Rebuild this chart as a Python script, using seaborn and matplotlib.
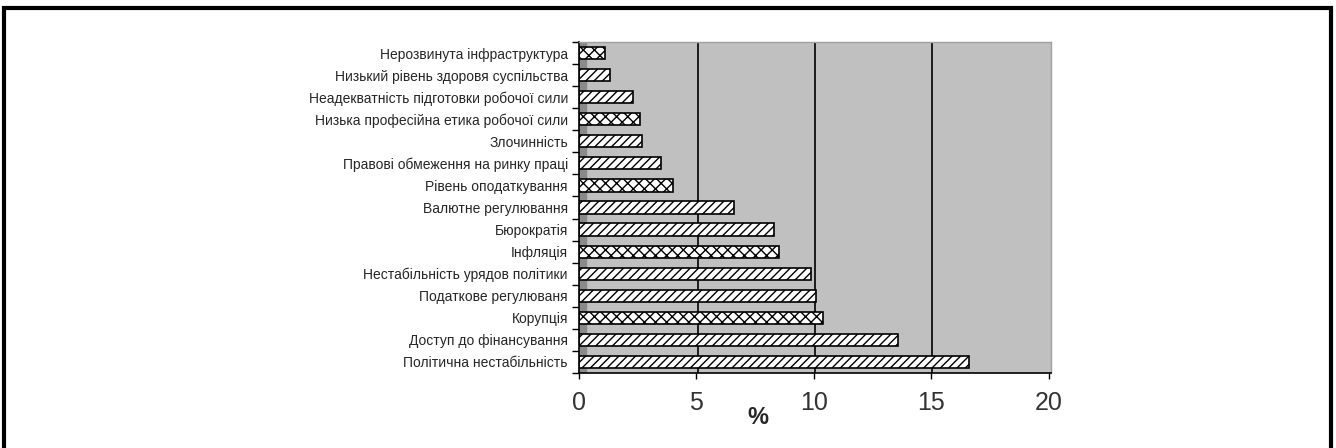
import pandas as pd
import numpy as np
import matplotlib
matplotlib.use('Agg')
import matplotlib.pyplot as plt
from matplotlib.patches import Rectangle
import seaborn as sns

# Data (top to bottom)
factors = [
    'Нерозвинута інфраструктура',
    'Низький рівень здоровя суспільства',
    'Неадекватність підготовки робочої сили',
    'Низька професійна етика робочої сили',
    'Злочинність',
    'Правові обмеження на ринку праці',
    'Рівень оподаткування',
    'Валютне регулювання',
    'Бюрократія',
    'Інфляція',
    'Нестабільність урядов політики',
    'Податкове регулюваня',
    'Корупція',
    'Доступ до фінансування',
    'Політична нестабільність',
]
shares = [1.1, 1.3, 2.3, 2.6, 2.7, 3.5, 4.0, 6.6, 8.3, 8.5, 9.9, 10.1, 10.4, 13.6, 16.6]
x_ticks = [0, 5, 10, 15, 20]

df = pd.DataFrame({'factor': factors, 'share': shares})

sns.set_theme(style='white')
plt.rcParams['font.family'] = ['Liberation Sans', 'DejaVu Sans']
plt.rcParams['hatch.linewidth'] = 1.0

fig = plt.figure(figsize=(13.36, 4.48), dpi=100)
ax = fig.add_axes([579 / 1336, 1 - 373 / 448, 472 / 1336, 331 / 448])

sns.barplot(data=df, x='share', y='factor', orient='h', color='white',
            edgecolor='black', linewidth=1.2, width=0.55, saturation=1, ax=ax)

# alternating fill patterns like the original
for i, bar in enumerate(ax.patches):
    bar.set_hatch('xxx' if i % 3 == 0 else '////')
    bar.set_facecolor('white')
    bar.set_edgecolor('black')

ax.set_facecolor('#c0c0c0')
ax.axvspan(0, 0.3, color='#8a8a8a', zorder=0.5)
ax.set_xlim(0, 20.1)
ax.set_ylim(len(factors) - 0.5, -0.5)
for v in x_ticks[1:-1]:
    ax.axvline(v + 0.05, color='black', lw=1.2, zorder=0.8)

ax.set_xticks(x_ticks)
ax.set_xticklabels([str(t) for t in x_ticks], fontsize=18, color='#333333')
ax.tick_params(axis='x', length=4, width=1, color='black', direction='out', bottom=True, pad=9)
ax.tick_params(axis='y', which='major', length=0, labelsize=10, pad=8)
ax.set_yticks(np.arange(len(factors) + 1) - 0.5, minor=True)
ax.tick_params(axis='y', which='minor', length=5, width=1, color='black', left=True)

ax.set_ylabel('')
ax.set_xlabel('%', fontsize=17, fontweight='bold')
ax.xaxis.set_label_coords((758 - 579) / 472, -0.1)

for side in ['top', 'right']:
    ax.spines[side].set_color('#a0a0a0')
    ax.spines[side].set_linewidth(1)
for side in ['left', 'bottom']:
    ax.spines[side].set_color('black')
    ax.spines[side].set_linewidth(1.2)

# outer frame of the figure
fig.patches.append(Rectangle((4 / 1336, -0.05), 1327 / 1336, 1.05 - 8 / 448,
                             transform=fig.transFigure, fill=False,
                             edgecolor='black', linewidth=3))

fig.savefig('out.png', dpi=100, facecolor='white')
